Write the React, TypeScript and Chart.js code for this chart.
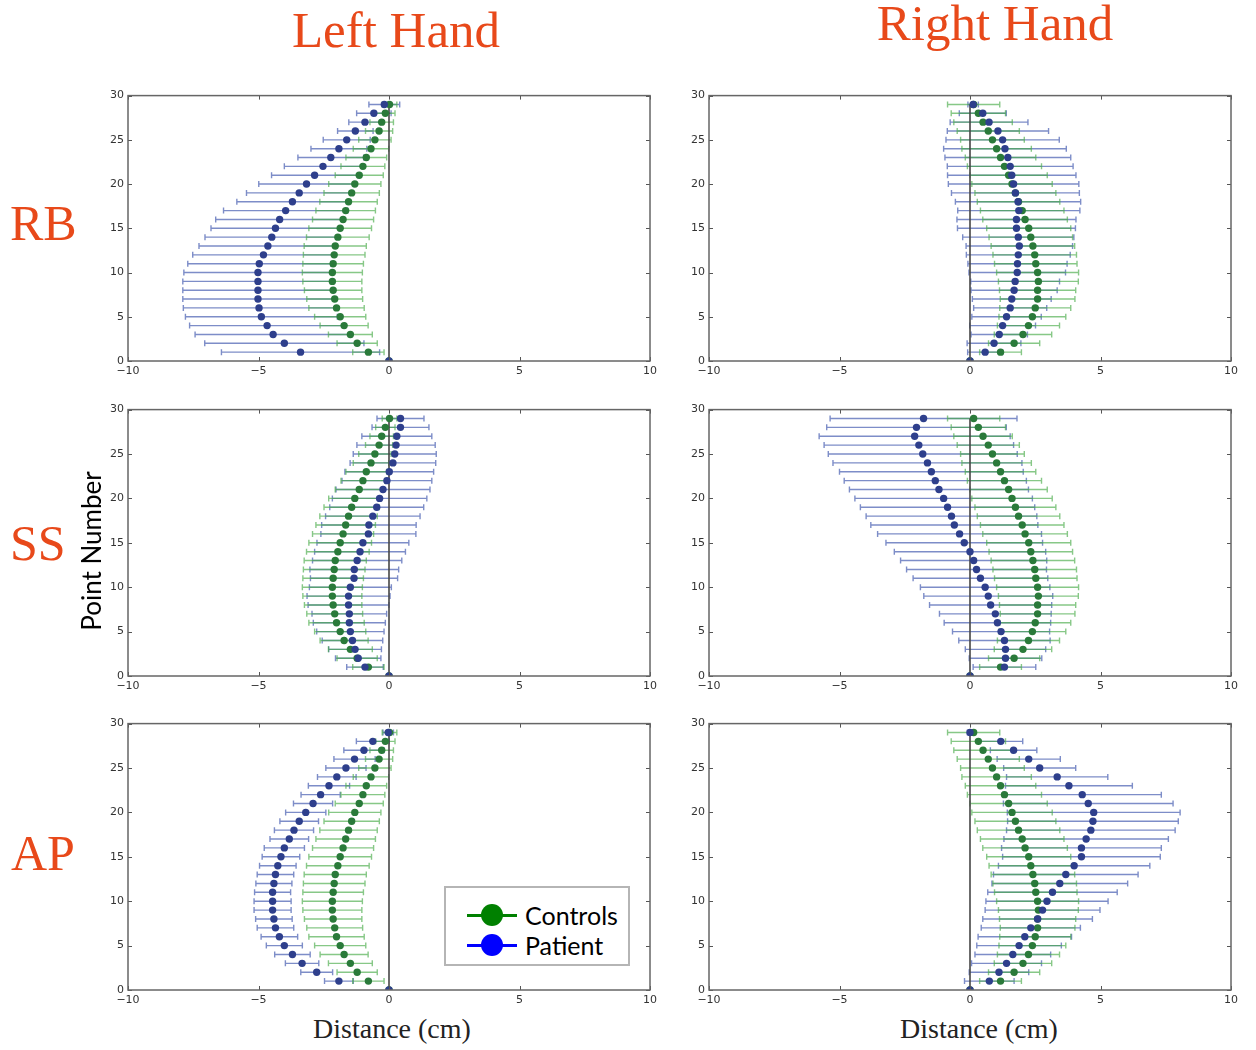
import React, { useEffect, useRef } from 'react';
import { Chart, registerables } from 'chart.js';

Chart.register(...registerables);

// ---------- data ----------
const pointNumbers = [0, 1, 2, 3, 4, 5, 6, 7, 8, 9, 10, 11, 12, 13, 14, 15, 16, 17, 18, 19, 20, 21, 22, 23, 24, 25, 26, 27, 28, 29];
const xTickValues = [-10, -5, 0, 5, 10];
const yTickValues = [0, 5, 10, 15, 20, 25, 30];
const zeroLineX = [0, 0];
const zeroLineY = [0, 29];

const columnTitles = ['Left Hand', 'Right Hand'];
const rowLabels = ['RB', 'SS', 'AP'];
const yAxisTitle = 'Point Number';
const xAxisTitle = 'Distance (cm)';
const seriesNames = ['Controls', 'Patient'];

const controlsLeftMean = [0, -0.79, -1.22, -1.48, -1.72, -1.87, -2.01, -2.08, -2.14, -2.17, -2.17, -2.14, -2.1, -2.06, -1.96, -1.87, -1.76, -1.66, -1.55, -1.43, -1.31, -1.14, -1.0, -0.87, -0.69, -0.54, -0.38, -0.28, -0.14, 0.02];
const controlsLeftSd = [0, 0.6, 0.77, 0.84, 0.92, 0.98, 1.06, 1.07, 1.1, 1.13, 1.15, 1.16, 1.18, 1.19, 1.2, 1.2, 1.17, 1.14, 1.1, 1.06, 1.0, 0.92, 0.84, 0.78, 0.68, 0.62, 0.52, 0.45, 0.37, 0.28];
const controlsRightMean = [0, 1.17, 1.69, 2.03, 2.24, 2.39, 2.5, 2.59, 2.59, 2.62, 2.59, 2.52, 2.48, 2.41, 2.33, 2.25, 2.11, 2.0, 1.86, 1.74, 1.61, 1.48, 1.32, 1.17, 1.02, 0.86, 0.7, 0.5, 0.32, 0.14];
const controlsRightSd = [0, 0.8, 0.98, 1.1, 1.19, 1.28, 1.36, 1.43, 1.46, 1.53, 1.57, 1.58, 1.6, 1.6, 1.6, 1.61, 1.62, 1.6, 1.58, 1.55, 1.54, 1.48, 1.42, 1.35, 1.33, 1.22, 1.19, 1.12, 1.04, 1.0];

const patientRBLeftMean = [0, -3.39, -4.01, -4.44, -4.67, -4.89, -4.98, -5.02, -5.02, -5.02, -5.02, -4.97, -4.81, -4.64, -4.49, -4.35, -4.19, -3.96, -3.7, -3.44, -3.16, -2.85, -2.53, -2.23, -1.92, -1.62, -1.29, -0.92, -0.58, -0.18];
const patientRBLeftSd = [0, 3.03, 3.05, 2.99, 2.97, 2.91, 2.9, 2.88, 2.88, 2.88, 2.84, 2.74, 2.71, 2.64, 2.56, 2.47, 2.45, 2.38, 2.13, 2.02, 1.83, 1.65, 1.48, 1.26, 1.07, 0.9, 0.68, 0.62, 0.66, 0.59];
const patientRBRightMean = [0, 0.58, 0.92, 1.12, 1.25, 1.4, 1.54, 1.6, 1.69, 1.73, 1.81, 1.82, 1.85, 1.89, 1.85, 1.78, 1.78, 1.87, 1.84, 1.74, 1.67, 1.6, 1.54, 1.45, 1.34, 1.25, 1.07, 0.73, 0.49, 0.12];
const patientRBRightSd = [0, 0.67, 1.03, 1.08, 1.26, 1.33, 1.4, 1.51, 1.65, 1.7, 1.85, 1.9, 1.99, 2.04, 2.13, 2.26, 2.28, 2.34, 2.4, 2.45, 2.5, 2.46, 2.41, 2.41, 2.35, 2.17, 1.94, 1.49, 0.9, 0.2];
const patientSSLeftMean = [0, -0.92, -1.18, -1.3, -1.4, -1.48, -1.52, -1.52, -1.55, -1.55, -1.48, -1.34, -1.33, -1.22, -1.11, -1.0, -0.79, -0.77, -0.62, -0.47, -0.36, -0.23, -0.08, 0.01, 0.15, 0.22, 0.27, 0.3, 0.44, 0.44];
const patientSSLeftSd = [0, 0.7, 0.87, 1.01, 1.16, 1.29, 1.38, 1.43, 1.55, 1.59, 1.57, 1.67, 1.7, 1.71, 1.74, 1.76, 1.82, 1.81, 1.81, 1.8, 1.81, 1.8, 1.72, 1.7, 1.64, 1.59, 1.5, 1.34, 1.09, 0.9];
const patientSSRightMean = [0, 1.32, 1.36, 1.36, 1.32, 1.19, 1.05, 0.97, 0.79, 0.7, 0.58, 0.4, 0.25, 0.14, 0.0, -0.22, -0.4, -0.6, -0.71, -0.86, -1.01, -1.19, -1.33, -1.48, -1.63, -1.81, -1.96, -2.12, -2.05, -1.78];
const patientSSRightSd = [0, 1.2, 1.39, 1.54, 1.75, 1.86, 2.04, 2.14, 2.34, 2.47, 2.48, 2.58, 2.68, 2.8, 2.9, 3.0, 3.14, 3.2, 3.27, 3.34, 3.4, 3.43, 3.49, 3.52, 3.62, 3.62, 3.63, 3.66, 3.44, 3.58];
const patientAPLeftMean = [0, -1.92, -2.77, -3.33, -3.7, -4.01, -4.2, -4.35, -4.41, -4.46, -4.46, -4.46, -4.41, -4.35, -4.26, -4.14, -4.01, -3.82, -3.64, -3.44, -3.19, -2.91, -2.62, -2.3, -2.0, -1.65, -1.32, -0.96, -0.62, -0.03];
const patientAPLeftSd = [0, 0.55, 0.61, 0.64, 0.68, 0.69, 0.7, 0.7, 0.7, 0.71, 0.71, 0.69, 0.69, 0.7, 0.7, 0.72, 0.77, 0.74, 0.75, 0.74, 0.77, 0.75, 0.75, 0.79, 0.74, 0.77, 0.79, 0.77, 0.63, 0.2];
const patientAPRightMean = [0, 0.74, 1.11, 1.4, 1.64, 1.88, 2.1, 2.33, 2.59, 2.78, 2.95, 3.16, 3.44, 3.67, 3.99, 4.27, 4.27, 4.45, 4.63, 4.71, 4.74, 4.53, 4.3, 3.79, 3.34, 2.67, 2.25, 1.67, 1.18, 0.0];
const patientAPRightSd = [0, 0.95, 1.14, 1.34, 1.45, 1.62, 1.79, 1.9, 2.1, 2.2, 2.34, 2.48, 2.6, 2.77, 2.9, 3.02, 3.06, 3.15, 3.23, 3.27, 3.31, 3.25, 3.03, 2.43, 1.94, 1.38, 1.21, 0.89, 0.84, 0.1];

// ---------- styles ----------
const ORANGE = '#e8491a';
const PATIENT_DOT = '#2e3f8c';
const CONTROLS_DOT = '#2a7a3a';
const PATIENT_BAR = 'rgba(55, 80, 170, 0.65)';
const CONTROLS_BAR = 'rgba(70, 170, 70, 0.65)';

const Y_AXIS_W = 32;
const X_AXIS_H = 22;
const PAD_TOP = 8;
const PAD_RIGHT = 14;
const PLOT_W = 522;
const COL_LEFT = [128, 709];
const ROW_TOP = [93, 407, 721];
const ROW_H = [268, 269, 269];

type PanelDef = {
  row: number;
  col: number;
  cMean: number[];
  cSd: number[];
  pMean: number[];
  pSd: number[];
};

const PANELS: PanelDef[] = [
  { row: 0, col: 0, cMean: controlsLeftMean, cSd: controlsLeftSd, pMean: patientRBLeftMean, pSd: patientRBLeftSd },
  { row: 0, col: 1, cMean: controlsRightMean, cSd: controlsRightSd, pMean: patientRBRightMean, pSd: patientRBRightSd },
  { row: 1, col: 0, cMean: controlsLeftMean, cSd: controlsLeftSd, pMean: patientSSLeftMean, pSd: patientSSLeftSd },
  { row: 1, col: 1, cMean: controlsRightMean, cSd: controlsRightSd, pMean: patientSSRightMean, pSd: patientSSRightSd },
  { row: 2, col: 0, cMean: controlsLeftMean, cSd: controlsLeftSd, pMean: patientAPLeftMean, pSd: patientAPLeftSd },
  { row: 2, col: 1, cMean: controlsRightMean, cSd: controlsRightSd, pMean: patientAPRightMean, pSd: patientAPRightSd },
];

const fmtTick = (v: number | string) => {
  const n = Number(v);
  return n < 0 ? '\u2212' + Math.abs(n) : String(n);
};

const errorBarPlugin = {
  id: 'errorBarsAndFrame',
  beforeDatasetsDraw(chart: any) {
    const { ctx, scales } = chart;
    const xs = scales.x;
    const ys = scales.y;
    chart.data.datasets.forEach((ds: any) => {
      if (!ds.sd) return;
      ctx.save();
      ctx.strokeStyle = ds.barColor;
      ctx.lineWidth = 1.4;
      ds.data.forEach((p: any, j: number) => {
        const s = ds.sd[j];
        if (!s) return;
        const x0 = xs.getPixelForValue(p.x - s);
        const x1 = xs.getPixelForValue(p.x + s);
        const py = ys.getPixelForValue(p.y);
        ctx.beginPath();
        ctx.moveTo(x0, py);
        ctx.lineTo(x1, py);
        ctx.moveTo(x0, py - 3);
        ctx.lineTo(x0, py + 3);
        ctx.moveTo(x1, py - 3);
        ctx.lineTo(x1, py + 3);
        ctx.stroke();
      });
      ctx.restore();
    });
  },
  afterDraw(chart: any) {
    const { ctx, chartArea, scales } = chart;
    const { left, right, top, bottom } = chartArea;
    ctx.save();
    ctx.strokeStyle = '#555';
    ctx.lineWidth = 1;
    ctx.beginPath();
    scales.x.ticks.forEach((t: any) => {
      const px = Math.round(scales.x.getPixelForValue(t.value)) + 0.5;
      ctx.moveTo(px, bottom);
      ctx.lineTo(px, bottom - 4);
      ctx.moveTo(px, top);
      ctx.lineTo(px, top + 4);
    });
    scales.y.ticks.forEach((t: any) => {
      const py = Math.round(scales.y.getPixelForValue(t.value)) + 0.5;
      ctx.moveTo(left, py);
      ctx.lineTo(left + 4, py);
      ctx.moveTo(right, py);
      ctx.lineTo(right - 4, py);
    });
    ctx.stroke();
    ctx.strokeStyle = '#666';
    ctx.lineWidth = 1.5;
    ctx.strokeRect(left, top, right - left, bottom - top);
    ctx.restore();
  },
};

function Panel({ def }: { def: PanelDef }) {
  const ref = useRef<HTMLCanvasElement>(null);
  const W = Y_AXIS_W + PLOT_W + PAD_RIGHT;
  const H = PAD_TOP + ROW_H[def.row] + X_AXIS_H;
  const left = COL_LEFT[def.col] - Y_AXIS_W;
  const top = ROW_TOP[def.row] - PAD_TOP;

  useEffect(() => {
    if (!ref.current) return;
    const tickFont = { family: 'DejaVu Sans', size: 11 };
    const chart = new Chart(ref.current, {
      type: 'scatter',
      data: {
        datasets: [
          {
            label: seriesNames[1],
            data: pointNumbers.map((y, i) => ({ x: def.pMean[i], y })),
            sd: def.pSd,
            barColor: PATIENT_BAR,
            backgroundColor: PATIENT_DOT,
            borderColor: PATIENT_DOT,
            pointRadius: 3.7,
            pointBorderWidth: 0,
            order: 0,
          } as any,
          {
            label: seriesNames[0],
            data: pointNumbers.map((y, i) => ({ x: def.cMean[i], y })),
            sd: def.cSd,
            barColor: CONTROLS_BAR,
            backgroundColor: CONTROLS_DOT,
            borderColor: CONTROLS_DOT,
            pointRadius: 3.7,
            pointBorderWidth: 0,
            order: 1,
          } as any,
          {
            label: 'zero',
            type: 'line',
            data: zeroLineX.map((x, i) => ({ x, y: zeroLineY[i] })),
            borderColor: 'rgba(70, 70, 70, 0.8)',
            borderWidth: 2,
            pointRadius: 0,
            showLine: true,
            order: 2,
          } as any,
        ],
      },
      options: {
        responsive: false,
        animation: false,
        devicePixelRatio: 1,
        layout: { padding: { top: PAD_TOP, right: PAD_RIGHT, left: 0, bottom: 0 } },
        plugins: { legend: { display: false }, tooltip: { enabled: false } },
        scales: {
          x: {
            type: 'linear',
            min: -10,
            max: 10,
            afterBuildTicks: (s: any) => {
              s.ticks = xTickValues.map((v) => ({ value: v }));
            },
            afterFit: (s: any) => {
              s.height = X_AXIS_H;
            },
            grid: { display: false, drawTicks: false },
            border: { display: false },
            ticks: { font: tickFont, color: '#333', padding: 4, maxRotation: 0, callback: fmtTick },
          },
          y: {
            type: 'linear',
            min: 0,
            max: 30,
            afterBuildTicks: (s: any) => {
              s.ticks = yTickValues.map((v) => ({ value: v }));
            },
            afterFit: (s: any) => {
              s.width = Y_AXIS_W;
            },
            grid: { display: false, drawTicks: false },
            border: { display: false },
            ticks: { font: tickFont, color: '#333', padding: 4, callback: fmtTick },
          },
        },
      } as any,
      plugins: [errorBarPlugin],
    });
    return () => chart.destroy();
  }, []);

  return (
    <canvas
      ref={ref}
      width={W}
      height={H}
      style={{ position: 'absolute', left, top, width: W, height: H }}
    />
  );
}

const serif = '"Liberation Serif", "Times New Roman", serif';
const sans = 'Lato, "Open Sans", sans-serif';

export default function App() {
  const orangeText = (text: string, x: number, baseline: number, size: number, align: 'left' | 'center') => (
    <div
      key={text}
      style={{
        position: 'absolute',
        left: align === 'center' ? x - 200 : x,
        width: align === 'center' ? 400 : undefined,
        top: baseline - size * 0.89,
        fontFamily: serif,
        fontSize: size,
        lineHeight: 1,
        color: ORANGE,
        textAlign: align,
        whiteSpace: 'nowrap',
      }}
    >
      {text}
    </div>
  );
  return (
    <div style={{ position: 'absolute', left: 0, top: 0, width: 1256, height: 1050, background: '#fff', overflow: 'hidden' }}>
      {orangeText(columnTitles[0], 396, 50, 51, 'center')}
      {orangeText(columnTitles[1], 995, 43, 51, 'center')}
      {orangeText(rowLabels[0], 10, 242, 50, 'left')}
      {orangeText(rowLabels[1], 10, 562, 50, 'left')}
      {orangeText(rowLabels[2], 11, 872, 50, 'left')}

      {PANELS.map((p, i) => (
        <Panel key={i} def={p} />
      ))}

      <div
        style={{
          position: 'absolute',
          left: 91 - 200,
          top: 551 - 15,
          width: 400,
          height: 30,
          transform: 'rotate(-90deg)',
          transformOrigin: '200px 15px',
          textAlign: 'center',
          fontFamily: sans,
          fontSize: 26,
          lineHeight: '30px',
          color: '#000',
        }}
      >
        {yAxisTitle}
      </div>

      {[392, 979].map((cx) => (
        <div
          key={cx}
          style={{
            position: 'absolute',
            left: cx - 150,
            width: 300,
            top: 1040 - 28 * 0.89,
            textAlign: 'center',
            fontFamily: serif,
            fontSize: 28,
            lineHeight: 1,
            color: '#222',
          }}
        >
          {xAxisTitle}
        </div>
      ))}

      <div
        style={{
          position: 'absolute',
          left: 444,
          top: 886,
          width: 182,
          height: 76,
          border: '2px solid #b5b5b5',
          background: '#fff',
          zIndex: 5,
        }}
      >
        {[
          { name: seriesNames[0], color: '#008000', cy: 27 },
          { name: seriesNames[1], color: '#0000ff', cy: 57 },
        ].map((e) => (
          <React.Fragment key={e.name}>
            <div style={{ position: 'absolute', left: 21, top: e.cy - 1.5, width: 50, height: 3, background: e.color }} />
            <div
              style={{
                position: 'absolute',
                left: 35,
                top: e.cy - 11,
                width: 22,
                height: 22,
                borderRadius: '50%',
                background: e.color,
              }}
            />
            <div
              style={{
                position: 'absolute',
                left: 79,
                top: e.cy - 15,
                fontFamily: sans,
                fontSize: 25,
                lineHeight: '30px',
                color: '#000',
                whiteSpace: 'nowrap',
              }}
            >
              {e.name}
            </div>
          </React.Fragment>
        ))}
      </div>
    </div>
  );
}
